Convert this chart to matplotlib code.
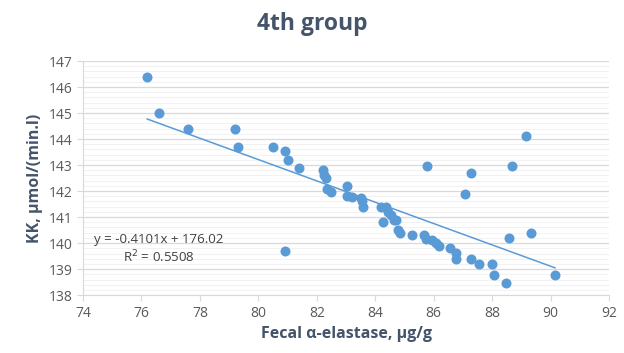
import numpy as np
import matplotlib.pyplot as plt
from matplotlib.ticker import MultipleLocator

# data
elastase = [76.2, 76.6, 77.6, 79.2, 79.3, 80.5, 80.9, 81.0, 81.4, 80.9,
            82.2, 82.25, 82.3, 82.35, 82.5, 83.05, 83.05, 83.2, 83.5, 83.55,
            83.57, 84.2, 84.37, 84.45, 84.53, 84.28, 84.65, 84.72, 84.79, 84.85,
            85.27, 85.68, 85.74, 85.95, 86.08, 86.18, 86.55, 86.77, 86.77, 87.27,
            87.56, 87.99, 88.05, 88.47, 90.15, 88.57, 89.34, 87.06, 87.27, 85.76,
            88.67, 89.17]
kk = [146.4, 145.0, 144.4, 144.4, 143.7, 143.7, 143.53, 143.2, 142.87, 139.7,
      142.8, 142.6, 142.5, 142.08, 141.97, 142.2, 141.8, 141.78, 141.72, 141.6,
      141.4, 141.4, 141.4, 141.2, 141.08, 140.8, 140.9, 140.88, 140.52, 140.4,
      140.3, 140.3, 140.17, 140.1, 140.0, 139.88, 139.8, 139.63, 139.37, 139.37,
      139.18, 139.18, 138.77, 138.47, 138.77, 140.18, 140.4, 141.88, 142.68, 142.97,
      142.97, 144.1]

slope = -0.4101
intercept = 176.02
eq_text = "y = -0.4101x + 176.02"
r2_text = "R$^2$ = 0.5508"

plt.rcParams['font.family'] = ['Open Sans', 'DejaVu Sans']

fig = plt.figure(figsize=(6.24, 3.53), dpi=100)
ax = fig.add_axes([0.133, 0.164, 0.843, 0.663])

ax.scatter(elastase, kk, s=52, color='#5b9bd5', zorder=3, linewidths=0)

xl = np.array([min(elastase), max(elastase)])
ax.plot(xl, slope * xl + intercept, color='#5b9bd5', lw=1.1, zorder=2)

ax.set_xlim(74, 92)
ax.set_ylim(138, 147)
ax.xaxis.set_major_locator(MultipleLocator(2))
ax.yaxis.set_major_locator(MultipleLocator(1))
ax.yaxis.set_minor_locator(MultipleLocator(0.2))
ax.grid(axis='y', which='major', color='#d9d9d9', lw=0.9, zorder=0)
ax.grid(axis='y', which='minor', color='#f0f0f0', lw=0.6, zorder=0)
ax.set_axisbelow(True)

for s in ['top', 'right']:
    ax.spines[s].set_visible(False)
for s in ['left', 'bottom']:
    ax.spines[s].set_color('#d9d9d9')
ax.tick_params(which='major', colors='#d9d9d9', labelcolor='#595959', labelsize=10, length=4)
ax.tick_params(which='minor', length=0)

ax.set_xlabel('Fecal α-elastase, µg/g', fontsize=11.5, fontweight='bold', color='#44546a', labelpad=4)
ax.set_ylabel('KK, µmol/(min.l)', fontsize=11.5, fontweight='bold', color='#44546a', labelpad=4)
fig.suptitle('4th group', x=0.5, y=0.965, fontsize=16.5, fontweight='bold', color='#44546a')

ax.text(76.6, 140.15, eq_text, fontsize=9.5, color='#404040', ha='center', va='center')
ax.text(76.6, 139.45, r2_text, fontsize=9.5, color='#404040', ha='center', va='center')

fig.savefig('out.png', dpi=100)
